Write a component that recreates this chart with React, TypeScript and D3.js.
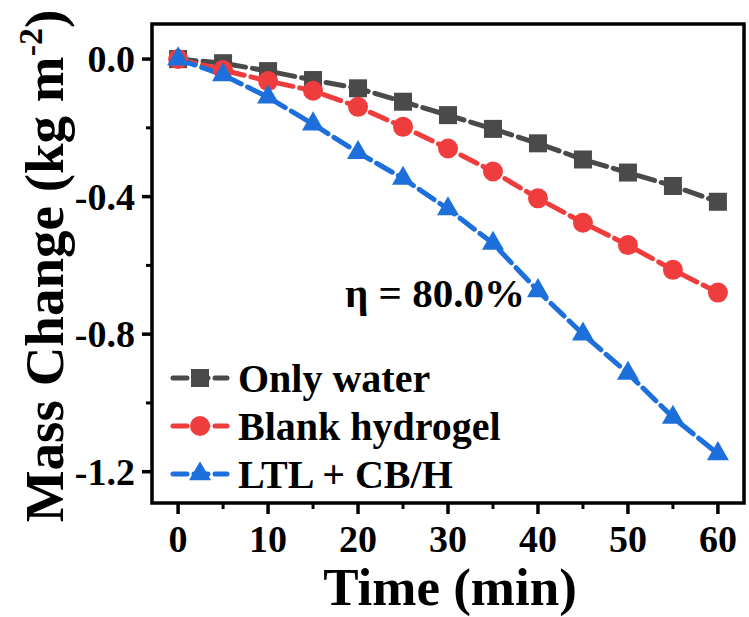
import React, { useRef, useEffect } from 'react';
import * as d3 from 'd3';

const times = [0, 5, 10, 15, 20, 25, 30, 35, 40, 45, 50, 55, 60];
const onlyWater = [0, -0.012, -0.035, -0.061, -0.085, -0.124, -0.163, -0.203, -0.245, -0.292, -0.33, -0.369, -0.415];
const blankHydrogel = [0, -0.032, -0.064, -0.092, -0.139, -0.197, -0.26, -0.327, -0.405, -0.476, -0.541, -0.613, -0.679];
const ltlCbh = [0, -0.046, -0.111, -0.189, -0.272, -0.347, -0.436, -0.536, -0.674, -0.8, -0.914, -1.042, -1.148];

const seriesNames = ['Only water', 'Blank hydrogel', 'LTL + CB/H'];
const seriesColors = ['#4a4a4a', '#ef3d3d', '#1d6fdc'];
const seriesShapes = ['square', 'circle', 'triangle'];

const xMajorTicks = [0, 10, 20, 30, 40, 50, 60];
const xMinorTicks = [5, 15, 25, 35, 45, 55];
const yMajorTicks = [0, -0.4, -0.8, -1.2];
const yMinorTicks = [-0.2, -0.6, -1.0];

const FONT = '"Liberation Serif", "Times New Roman", serif';

function App() {
  const svgRef = useRef(null);

  useEffect(() => {
    const svg = d3.select(svgRef.current);
    svg.selectAll('*').remove();

    const frame = { left: 152, right: 744, top: 24, bottom: 503 };

    const x = d3.scaleLinear().domain([-2.9, 62.9]).range([frame.left, frame.right]);
    const y = d3.scaleLinear().domain([-1.291, 0.102]).range([frame.bottom, frame.top]);

    const allSeries = [onlyWater, blankHydrogel, ltlCbh];

    const drawMarker = (g, shape, color, cx, cy) => {
      if (shape === 'square') {
        g.append('rect')
          .attr('x', cx - 9).attr('y', cy - 9)
          .attr('width', 18).attr('height', 18)
          .attr('fill', color);
      } else if (shape === 'circle') {
        g.append('circle')
          .attr('cx', cx).attr('cy', cy).attr('r', 10)
          .attr('fill', color);
      } else {
        const sym = d3.symbol().type(d3.symbolTriangle).size(210);
        g.append('path')
          .attr('d', sym())
          .attr('transform', `translate(${cx},${cy})`)
          .attr('fill', color);
      }
    };

    // series lines, then markers on top
    allSeries.forEach((vals, si) => {
      const line = d3.line()
        .x((d, i) => x(times[i]))
        .y(d => y(d));
      svg.append('path')
        .datum(vals)
        .attr('fill', 'none')
        .attr('stroke', seriesColors[si])
        .attr('stroke-width', 5)
        .attr('stroke-dasharray', '18 7')
        .attr('stroke-linecap', 'round')
        .attr('d', line);
    });
    allSeries.forEach((vals, si) => {
      const g = svg.append('g');
      vals.forEach((v, i) => drawMarker(g, seriesShapes[si], seriesColors[si], x(times[i]), y(v)));
    });

    // frame
    svg.append('rect')
      .attr('x', frame.left).attr('y', frame.top)
      .attr('width', frame.right - frame.left)
      .attr('height', frame.bottom - frame.top)
      .attr('fill', 'none')
      .attr('stroke', '#000')
      .attr('stroke-width', 3.5);

    // x ticks
    const xAxis = svg.append('g');
    xMajorTicks.forEach(t => {
      xAxis.append('line')
        .attr('x1', x(t)).attr('x2', x(t))
        .attr('y1', frame.bottom).attr('y2', frame.bottom + 11)
        .attr('stroke', '#000').attr('stroke-width', 3.5);
      xAxis.append('text')
        .attr('x', x(t)).attr('y', 552)
        .attr('text-anchor', 'middle')
        .attr('font-family', FONT).attr('font-weight', 'bold')
        .attr('font-size', 38)
        .text(t);
    });
    xMinorTicks.forEach(t => {
      xAxis.append('line')
        .attr('x1', x(t)).attr('x2', x(t))
        .attr('y1', frame.bottom).attr('y2', frame.bottom + 6)
        .attr('stroke', '#000').attr('stroke-width', 3);
    });

    // y ticks
    const yAxis = svg.append('g');
    yMajorTicks.forEach(t => {
      yAxis.append('line')
        .attr('x1', frame.left - 10).attr('x2', frame.left)
        .attr('y1', y(t)).attr('y2', y(t))
        .attr('stroke', '#000').attr('stroke-width', 3.5);
      yAxis.append('text')
        .attr('x', 135).attr('y', y(t))
        .attr('dy', '0.35em')
        .attr('text-anchor', 'end')
        .attr('font-family', FONT).attr('font-weight', 'bold')
        .attr('font-size', 38)
        .text(d3.format('.1f')(t).replace('−', '-'));
    });
    yMinorTicks.forEach(t => {
      yAxis.append('line')
        .attr('x1', frame.left - 6).attr('x2', frame.left)
        .attr('y1', y(t)).attr('y2', y(t))
        .attr('stroke', '#000').attr('stroke-width', 3);
    });

    // axis titles
    svg.append('text')
      .attr('x', 450).attr('y', 605)
      .attr('text-anchor', 'middle')
      .attr('font-family', FONT).attr('font-weight', 'bold')
      .attr('font-size', 53)
      .text('Time (min)');

    const yTitle = svg.append('text')
      .attr('transform', 'translate(63,266) rotate(-90)')
      .attr('text-anchor', 'middle')
      .attr('font-family', FONT).attr('font-weight', 'bold')
      .attr('font-size', 55);
    yTitle.append('tspan').text('Mass Change (kg m');
    yTitle.append('tspan').attr('dy', -21).attr('font-size', 34).text('-2');
    yTitle.append('tspan').attr('dy', 21).text(')');

    // annotation
    svg.append('text')
      .attr('x', 345).attr('y', 307)
      .attr('font-family', FONT).attr('font-weight', 'bold')
      .attr('font-size', 41)
      .text('η = 80.0%');

    // legend
    const legend = svg.append('g');
    seriesNames.forEach((name, i) => {
      const ly = 378 + i * 48;
      legend.append('line')
        .attr('x1', 173).attr('x2', 227)
        .attr('y1', ly).attr('y2', ly)
        .attr('stroke', seriesColors[i])
        .attr('stroke-width', 5)
        .attr('stroke-dasharray', '14 7')
        .attr('stroke-linecap', 'round');
      drawMarker(legend, seriesShapes[i], seriesColors[i], 200, ly);
      legend.append('text')
        .attr('x', 238).attr('y', ly)
        .attr('dy', '0.35em')
        .attr('font-family', FONT).attr('font-weight', 'bold')
        .attr('font-size', 40)
        .text(name);
    });
  }, []);

  return (
    <svg
      ref={svgRef}
      width={749}
      height={617}
      viewBox="0 0 749 617"
      style={{ position: 'absolute', left: 0, top: 0, background: '#fff' }}
    />
  );
}

export default App;
